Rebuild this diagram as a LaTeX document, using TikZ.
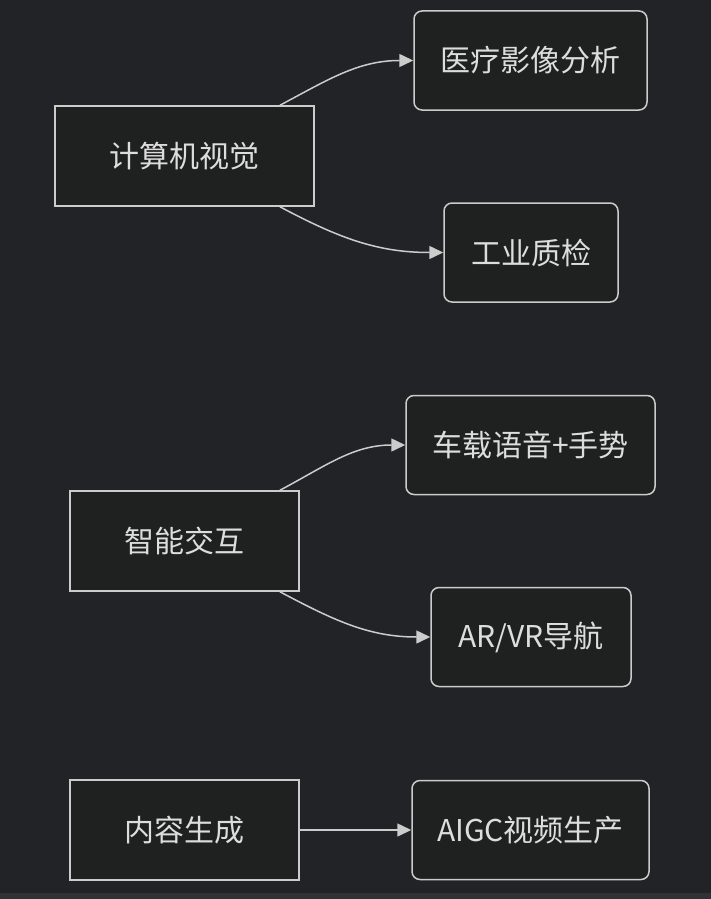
\documentclass[tikz,border=0pt]{standalone}
\usepackage{fontspec}
\setmainfont{Noto Sans CJK SC}
\usepackage{xcolor}
\definecolor{darkbg}{HTML}{222327}
\definecolor{nodefill}{HTML}{1F2020}
\definecolor{edgegray}{HTML}{CCCCCC}
\definecolor{labelgray}{HTML}{DDDDDD}
\usepackage{tikz}
\usetikzlibrary{arrows.meta, positioning}
\tikzset{
  areabox/.style={
    rectangle, draw=edgegray, fill=nodefill, line width=1.5pt,
    minimum height=100pt, text=labelgray,
    font=\fontsize{30}{34}\selectfont
  },
  usecase/.style={
    rectangle, rounded corners=8pt, draw=edgegray, fill=nodefill, line width=1.5pt,
    minimum height=99pt, text=labelgray,
    font=\fontsize{30}{34}\selectfont
  },
  arrow/.style={line width=1.5pt, color=edgegray,
    -{Triangle[length=14pt,width=13pt]}},
}

\begin{document}
\begin{tikzpicture}[x=1pt, y=-1pt]
  \fill[darkbg] (0,0) rectangle (711,899);
  \fill[darkbg!93!white] (0,893) rectangle (711,899);
  \useasboundingbox (0,0) rectangle (711,899);

  % left column
  \node (cv)   [areabox, minimum width=259pt] at (184.5,156) {计算机视觉};
  \node (ii)   [areabox, minimum width=229pt] at (184.5,541) {智能交互};
  \node (cg)   [areabox, minimum width=229pt] at (184.5,830) {内容生成};

  % right column
  \node (med)  [usecase, minimum width=233pt] at (530.5,60.5) {医疗影像分析};
  \node (qc)   [usecase, minimum width=174pt] at (531,252.5)  {工业质检};
  \node (car)  [usecase, minimum width=249pt] at (530.5,445)  {车载语音+手势};
  \node (arvr) [usecase, minimum width=200pt] at (531,637)    {AR/VR导航};
  \node (aigc) [usecase, minimum width=237pt] at (530.5,830)  {AIGC视频生产};

  \draw [arrow] (cv) to[out=28,in=180]  (med);
  \draw [arrow] (cv) to[out=-28,in=180] (qc);
  \draw [arrow] (ii) to[out=28,in=180]  (car);
  \draw [arrow] (ii) to[out=-28,in=180] (arvr);
  \draw [arrow] (cg) -- (aigc);
\end{tikzpicture}
\end{document}
